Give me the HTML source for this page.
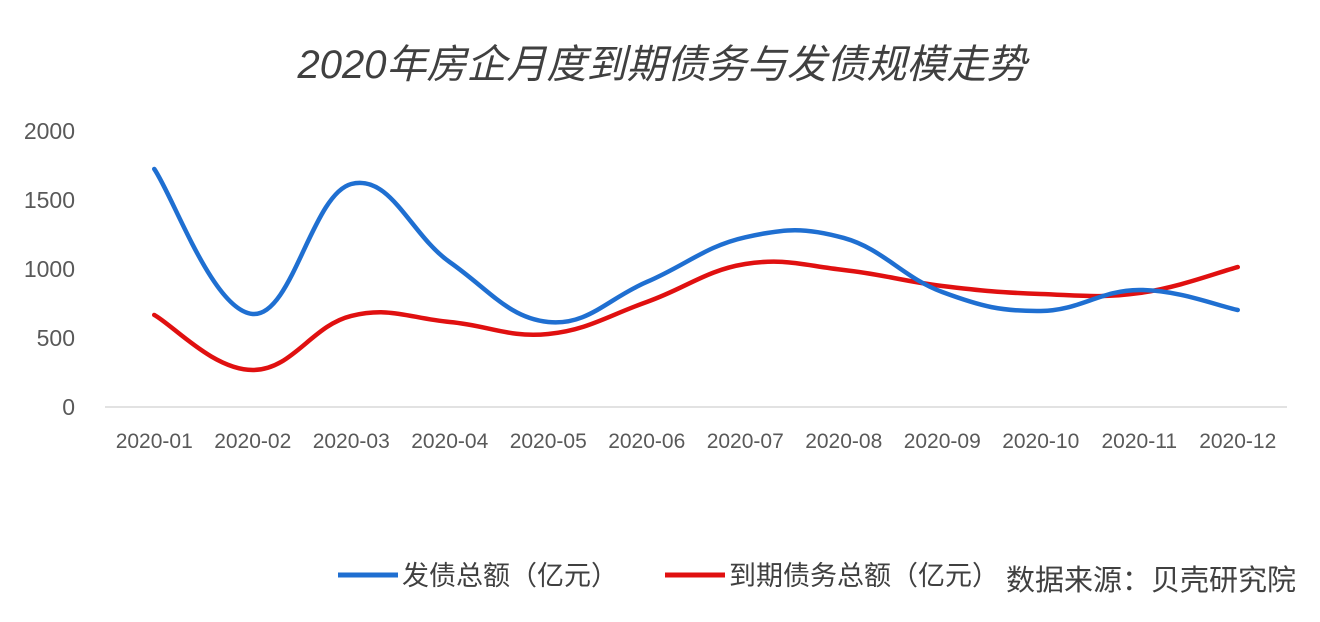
<!DOCTYPE html>
<html><head><meta charset="utf-8"><style>
body{margin:0;background:#fff;}
svg{display:block;font-family:"Liberation Sans","Noto Sans CJK SC",sans-serif;}
</style></head><body>
<svg width="1320" height="622" viewBox="0 0 1320 622">
<text x="662" y="78" text-anchor="middle" font-size="40" font-style="italic" fill="#404040">2020年房企月度到期债务与发债规模走势</text>
<g id="yaxis"></g>
<g id="xaxis"></g>
<g id="series"></g>
<g>
<line x1="338" y1="575" x2="398" y2="575" stroke="#1f6fd1" stroke-width="5"/>
<text x="402" y="585" font-size="27" fill="#404040">发债总额（亿元）</text>
<line x1="665" y1="575" x2="725" y2="575" stroke="#e01010" stroke-width="5"/>
<text x="729" y="585" font-size="27" fill="#404040">到期债务总额（亿元）</text>
<text x="1006" y="590" font-size="29" fill="#404040">数据来源：贝壳研究院</text>
</g>
</svg>
<script>
const categories=["2020-01","2020-02","2020-03","2020-04","2020-05","2020-06","2020-07","2020-08","2020-09","2020-10","2020-11","2020-12"];
const issuance=[1725,674,1616,1050,616,906,1230,1225,833,696,848,703];
const maturity=[667,268,660,616,529,761,1036,993,877,819,826,1014];
const yTicks=[0,500,1000,1500,2000];
const NS="http://www.w3.org/2000/svg";
const x0=105,x1=1287,y0=407,yTop=131;
const step=(x1-x0)/categories.length;
const X=i=>x0+step*(i+0.5);
const Y=v=>y0-(v/2000)*(y0-yTop);
function mk(tag,attrs,parent){const e=document.createElementNS(NS,tag);for(const k in attrs)e.setAttribute(k,attrs[k]);parent.appendChild(e);return e;}
const ya=document.getElementById('yaxis'),xa=document.getElementById('xaxis'),sg=document.getElementById('series');
yTicks.forEach(t=>{const e=mk('text',{x:75,y:Y(t)+8,'text-anchor':'end','font-size':23,fill:'#595959'},ya);e.textContent=t;

});
const ax=mk('line',{x1:x0,x2:x1,y1:y0,y2:y0,stroke:'#d9d9d9','stroke-width':1.5},xa);


categories.forEach((c,i)=>{const e=mk('text',{x:X(i),y:448,'text-anchor':'middle','font-size':21,fill:'#595959'},xa);e.textContent=c;

});
function path(vals){const p=vals.map((v,i)=>[X(i),Y(v)]);let d=`M${p[0][0]},${p[0][1]}`;
for(let i=0;i<p.length-1;i++){const a=p[Math.max(0,i-1)],b=p[i],c=p[i+1],e=p[Math.min(p.length-1,i+2)];const t=0.2;
d+=` C${b[0]+(c[0]-a[0])*t},${b[1]+(c[1]-a[1])*t} ${c[0]-(e[0]-b[0])*t},${c[1]-(e[1]-b[1])*t} ${c[0]},${c[1]}`;}return d;}
const r=mk('path',{d:path(maturity),fill:'none',stroke:'#e01010','stroke-width':4.5,'stroke-linecap':'round'},sg);


const b=mk('path',{d:path(issuance),fill:'none',stroke:'#1f6fd1','stroke-width':4.5,'stroke-linecap':'round'},sg);


</script>
</body></html>
